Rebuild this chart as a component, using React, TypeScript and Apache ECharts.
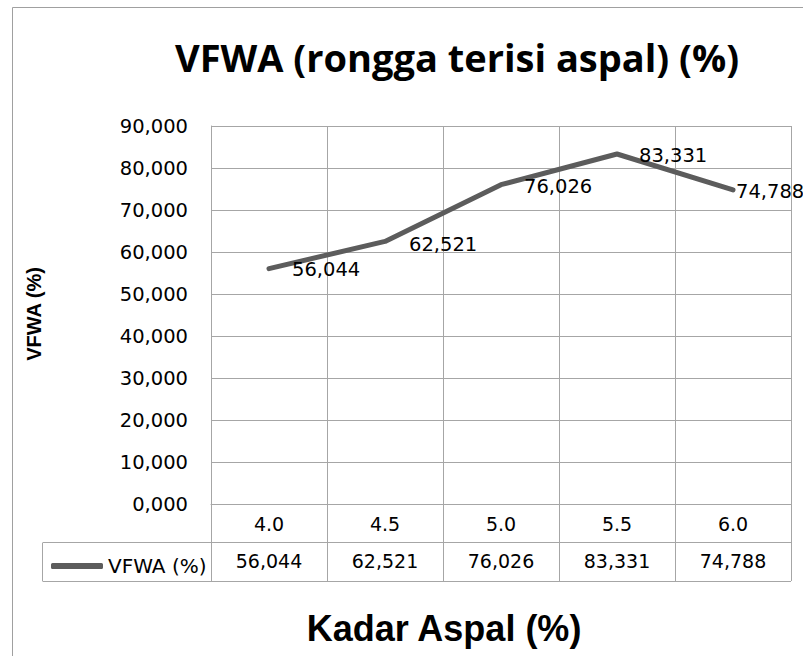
import React, { useEffect, useRef } from "react";
import * as echarts from "echarts";

const categories = ["4.0", "4.5", "5.0", "5.5", "6.0"];
const vfwaValues = [56.044, 62.521, 76.026, 83.331, 74.788];
const seriesName = "VFWA (%)";
const titleText = "VFWA (rongga terisi aspal) (%)";
const xTitle = "Kadar Aspal (%)";
const yTitle = "VFWA (%)";
// label placement (styling only): [dx, dy] from the point
const labelShift = [
  [22, 1],
  [23, 3],
  [22, 2],
  [21, 1],
  [2, 2],
];

const fmt = (v: number) => v.toFixed(3).replace(".", ",");

export default function App() {
  const ref = useRef<HTMLDivElement>(null);
  useEffect(() => {
    if (!ref.current) return;
    const chart = echarts.init(ref.current, undefined, { renderer: "svg" });
    const gray = "#a6a6a6";
    const lineColor = "#5c5c5c";
    const font = "DejaVu Sans";
    chart.setOption({
      animation: false,
      backgroundColor: "#ffffff",
      legend: {
        left: 46,
        top: 551,
        itemWidth: 52,
        itemHeight: 6,
        itemGap: 0,
        icon: "roundRect",
        textStyle: { fontFamily: font, fontSize: 20, color: "#000" },
        data: [{ name: seriesName, icon: "roundRect", itemStyle: { color: lineColor, opacity: 1 } }],
      },
      grid: { left: 211, top: 126, width: 580, height: 378, containLabel: false },
      xAxis: [
        {
          type: "category",
          data: categories,
          boundaryGap: true,
          axisLine: { show: true, lineStyle: { color: gray, width: 1 } },
          axisTick: { show: true, length: 77, interval: 0, alignWithLabel: false, lineStyle: { color: gray, width: 1 } },
          axisLabel: { margin: 10, fontFamily: font, fontSize: 19, color: "#000" },
          splitLine: { show: true, interval: 0, lineStyle: { color: gray, width: 1 } },
        },
        {
          type: "category",
          data: vfwaValues.map(fmt),
          position: "bottom",
          offset: 39,
          boundaryGap: true,
          axisLine: { show: false },
          axisTick: { show: false },
          splitLine: { show: false },
          axisLabel: { margin: 8, fontFamily: font, fontSize: 19, color: "#000" },
        },
      ],
      yAxis: {
        type: "value",
        min: 0,
        max: 90,
        interval: 10,
        axisLine: { show: true, lineStyle: { color: gray } },
        axisTick: { show: false },
        axisLabel: { margin: 23, fontFamily: font, fontSize: 19.5, color: "#000", formatter: (v: number) => fmt(v) },
        splitLine: { show: true, lineStyle: { color: gray, width: 1 } },
      },
      series: [
        {
          name: seriesName,
          type: "line",
          xAxisIndex: 0,
          data: vfwaValues.map((v, i) => ({
            value: v,
            label: { offset: labelShift[i] },
          })),
          showSymbol: true,
          symbol: "circle",
          symbolSize: 2,
          itemStyle: { color: lineColor },
          lineStyle: { color: lineColor, width: 5, cap: "round", join: "round" },
          label: {
            show: true,
            position: "right",
            distance: 0,
            fontFamily: font,
            fontSize: 19.5,
            color: "#000",
            formatter: (p: any) => fmt(p.value),
          },
        },
      ],
      graphic: [
        { type: "rect", silent: true, z: -1, shape: { x: 12.5, y: 7.5, width: 900, height: 700 }, style: { fill: "none", stroke: "#a0a0a0", lineWidth: 1 } },
        { type: "line", silent: true, shape: { x1: 43, y1: 542.5, x2: 791, y2: 542.5 }, style: { stroke: gray, lineWidth: 1 } },
        { type: "line", silent: true, shape: { x1: 43, y1: 581.5, x2: 791, y2: 581.5 }, style: { stroke: gray, lineWidth: 1 } },
        { type: "line", silent: true, shape: { x1: 42.5, y1: 542.5, x2: 42.5, y2: 581.5 }, style: { stroke: gray, lineWidth: 1 } },
        {
          type: "text",
          silent: true,
          x: 457,
          y: 57,
          style: { text: titleText, fill: "#000", font: "bold 38px 'Open Sans'", textAlign: "center", textVerticalAlign: "middle" },
        },
        {
          type: "text",
          silent: true,
          x: 34,
          y: 314,
          rotation: Math.PI / 2,
          style: { text: yTitle, fill: "#000", font: "bold 20px 'Liberation Sans'", textAlign: "center", textVerticalAlign: "middle" },
        },
        {
          type: "text",
          silent: true,
          x: 444,
          y: 628,
          style: { text: xTitle, fill: "#000", font: "bold 36px 'Liberation Sans'", textAlign: "center", textVerticalAlign: "middle" },
        },
      ],
    });
    return () => chart.dispose();
  }, []);
  return <div ref={ref} style={{ position: "absolute", left: 0, top: 0, width: 803, height: 656 }} />;
}
